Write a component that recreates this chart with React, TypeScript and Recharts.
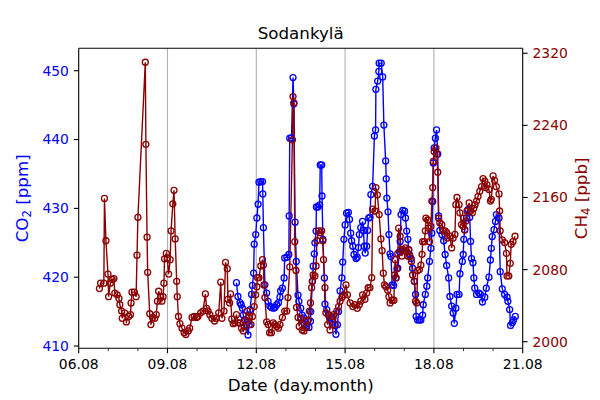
import { ComposedChart, Line, XAxis, YAxis, ReferenceLine } from 'recharts'

const FONT = 'DejaVu Sans, sans-serif'
const CO2_COLOR = '#0000ff'
const CH4_COLOR = '#8b0000'
const GRID_COLOR = '#b0b0b0'

// x axis: day of August, one tick per day, labels every third day
const X_TICKS = [6, 7, 8, 9, 10, 11, 12, 13, 14, 15, 16, 17, 18, 19, 20, 21]
const X_MAJOR = [6, 9, 12, 15, 18, 21]
const X_LABELS = ['06.08', '09.08', '12.08', '15.08', '18.08', '21.08']
const X_GRID = [9, 12, 15, 18]

const CO2_TICKS = [410, 420, 430, 440, 450]
const CH4_TICKS = [2000, 2080, 2160, 2240, 2320]
const CO2_DOMAIN: [number, number] = [409.67, 453.26]
const CH4_DOMAIN: [number, number] = [1992.7, 2325.5]

// CH4 [ppb], time in days of August
const CH4_DAYS = [
  6.70, 6.74, 6.85, 6.87, 6.92, 6.99, 7.01, 7.07, 7.13, 7.19, 7.22, 7.30, 7.36, 7.39, 7.45, 7.47,
  7.55, 7.61, 7.69, 7.75, 7.77, 7.80, 7.88, 7.94, 7.97, 8.00, 8.25, 8.27, 8.31, 8.33, 8.40, 8.44,
  8.50, 8.57, 8.62, 8.66, 8.70, 8.77, 8.81, 8.85, 8.88, 8.90, 8.96, 8.99, 9.04, 9.09, 9.12, 9.18,
  9.22, 9.26, 9.31, 9.33, 9.37, 9.42, 9.49, 9.56, 9.62, 9.70, 9.75, 9.83, 9.90, 9.98, 10.03, 10.12,
  10.20, 10.28, 10.32, 10.37, 10.43, 10.50, 10.59, 10.65, 10.73, 10.80, 10.84, 10.91, 10.96, 11.02, 11.04, 11.10,
  11.13, 11.17, 11.22, 11.27, 11.33, 11.38, 11.45, 11.50, 11.56, 11.60, 11.64, 11.69, 11.76, 11.82, 11.87, 11.93,
  11.98, 12.02, 12.04, 12.09, 12.15, 12.21, 12.24, 12.26, 12.29, 12.35, 12.40, 12.45, 12.51, 12.57, 12.62, 12.69,
  12.75, 12.80, 12.88, 12.96, 13.03, 13.07, 13.13, 13.22, 13.24, 13.27, 13.30, 13.34, 13.36, 13.41, 13.45, 13.50,
  13.55, 13.61, 13.67, 13.70, 13.76, 13.79, 13.83, 13.87, 13.89, 13.92, 13.98, 14.02, 14.05, 14.10, 14.16, 14.21,
  14.25, 14.27, 14.32, 14.35, 14.41, 14.44, 14.49, 14.55, 14.61, 14.66, 14.72, 14.78, 14.83, 14.89, 14.94, 15.03,
  15.08, 15.17, 15.26, 15.33, 15.41, 15.48, 15.53, 15.59, 15.67, 15.73, 15.78, 15.84, 15.90, 15.93, 16.01, 16.04,
  16.09, 16.15, 16.21, 16.25, 16.29, 16.33, 16.38, 16.44, 16.48, 16.52, 16.59, 16.65, 16.67, 16.69, 16.72, 16.75,
  16.78, 16.81, 16.86, 16.89, 16.92, 16.97, 17.04, 17.08, 17.12, 17.15, 17.19, 17.24, 17.28, 17.34, 17.38, 17.42,
  17.45, 17.51, 17.56, 17.60, 17.62, 17.68, 17.71, 17.73, 17.79, 17.82, 17.85, 17.90, 17.93, 17.96, 17.98, 18.01,
  18.07, 18.10, 18.13, 18.16, 18.20, 18.27, 18.32, 18.38, 18.43, 18.46, 18.54, 18.60, 18.65, 18.71, 18.74, 18.78,
  18.85, 18.88, 18.93, 18.99, 19.01, 19.04, 19.08, 19.12, 19.19, 19.24, 19.30, 19.35, 19.39, 19.44, 19.49, 19.55,
  19.61, 19.66, 19.72, 19.75, 19.79, 19.86, 19.91, 19.94, 20.00, 20.05, 20.11, 20.20, 20.22, 20.24, 20.31, 20.39,
  20.45, 20.47, 20.53, 20.58, 20.61, 20.67, 20.74,
]
const CH4_PPB = [
  2059, 2065, 2065, 2159, 2112, 2075, 2050, 2065, 2069, 2070, 2054, 2052, 2048, 2041, 2034, 2026,
  2032, 2022, 2028, 2030, 2043, 2055, 2055, 2050, 2096, 2138, 2310, 2219, 2116, 2077, 2031, 2019,
  2027, 2026, 2030, 2045, 2056, 2050, 2045, 2050, 2065, 2092, 2098, 2093, 2075, 2091, 2123, 2153,
  2168, 2114, 2067, 2050, 2028, 2020, 2015, 2010, 2008, 2012, 2015, 2027, 2028, 2027, 2028, 2032,
  2034, 2053, 2037, 2034, 2030, 2026, 2023, 2026, 2032, 2066, 2026, 2034, 2088, 2081, 2047, 2043,
  2053, 2025, 2020, 2021, 2030, 2021, 2021, 2015, 2012, 2017, 2024, 2034, 2027, 2019, 2028, 2039,
  2052, 2061, 2071, 2071, 2084, 2091, 2085, 2063, 2049, 2022, 2019, 2010, 2010, 2021, 2019, 2017,
  2015, 2019, 2027, 2034, 2034, 2049, 2083, 2224, 2272, 2265, 2111, 2079, 2038, 2027, 2017, 2026,
  2013, 2012, 2023, 2016, 2024, 2034, 2043, 2060, 2067, 2074, 2073, 2084, 2112, 2123, 2121, 2123,
  2112, 2091, 2060, 2032, 2019, 2030, 2013, 2028, 2030, 2019, 2034, 2039, 2045, 2049, 2052, 2063,
  2052, 2043, 2039, 2041, 2037, 2041, 2045, 2052, 2047, 2054, 2060, 2060, 2071, 2147, 2145, 2171,
  2163, 2141, 2114, 2101, 2076, 2063, 2061, 2057, 2050, 2043, 2046, 2046, 2074, 2091, 2071, 2081,
  2098, 2126, 2117, 2102, 2095, 2102, 2104, 2100, 2095, 2102, 2095, 2089, 2074, 2067, 2045, 2043,
  2079, 2080, 2085, 2097, 2111, 2111, 2123, 2137, 2135, 2126, 2111, 2128, 2156, 2171, 2200, 2211,
  2215, 2208, 2188, 2137, 2132, 2130, 2123, 2123, 2121, 2115, 2117, 2104, 2115, 2119, 2152, 2160,
  2152, 2143, 2130, 2128, 2137, 2124, 2134, 2145, 2154, 2145, 2143, 2148, 2152, 2156, 2161, 2167,
  2172, 2181, 2178, 2171, 2174, 2169, 2156, 2158, 2184, 2179, 2172, 2164, 2145, 2123, 2113, 2110,
  2098, 2073, 2073, 2087, 2108, 2111, 2117,
]

// CO2 [ppm], time in days of August
const CO2_DAYS = [
  11.33, 11.38, 11.45, 11.49, 11.53, 11.56, 11.60, 11.67, 11.72, 11.76, 11.79, 11.84, 11.87, 11.91, 11.93, 11.98,
  12.02, 12.06, 12.09, 12.15, 12.21, 12.22, 12.24, 12.29, 12.35, 12.40, 12.46, 12.51, 12.58, 12.63, 12.69, 12.75,
  12.80, 12.82, 12.88, 12.94, 12.96, 13.03, 13.10, 13.11, 13.13, 13.19, 13.24, 13.27, 13.31, 13.35, 13.41, 13.44,
  13.50, 13.55, 13.61, 13.63, 13.70, 13.78, 13.83, 13.84, 13.90, 13.92, 13.96, 13.98, 14.02, 14.03, 14.08, 14.14,
  14.16, 14.21, 14.22, 14.25, 14.30, 14.32, 14.38, 14.44, 14.52, 14.58, 14.66, 14.69, 14.74, 14.78, 14.83, 14.89,
  14.92, 14.96, 15.00, 15.05, 15.11, 15.15, 15.19, 15.22, 15.26, 15.30, 15.37, 15.41, 15.45, 15.48, 15.53, 15.59,
  15.62, 15.65, 15.68, 15.73, 15.76, 15.80, 15.84, 15.87, 15.93, 15.99, 16.03, 16.04, 16.10, 16.14, 16.15, 16.22,
  16.27, 16.31, 16.37, 16.39, 16.41, 16.45, 16.48, 16.52, 16.55, 16.59, 16.64, 16.72, 16.78, 16.84, 16.86, 16.89,
  16.95, 17.01, 17.04, 17.08, 17.12, 17.15, 17.17, 17.23, 17.28, 17.34, 17.38, 17.40, 17.45, 17.51, 17.56, 17.62,
  17.64, 17.71, 17.76, 17.79, 17.85, 17.90, 17.93, 17.96, 17.98, 18.01, 18.05, 18.09, 18.13, 18.16, 18.20, 18.27,
  18.33, 18.38, 18.43, 18.50, 18.54, 18.60, 18.65, 18.69, 18.74, 18.78, 18.85, 18.88, 18.96, 18.99, 19.01, 19.04,
  19.10, 19.15, 19.21, 19.24, 19.27, 19.32, 19.35, 19.38, 19.44, 19.52, 19.57, 19.64, 19.72, 19.77, 19.86, 19.91,
  19.94, 19.97, 20.03, 20.08, 20.11, 20.20, 20.24, 20.31, 20.39, 20.47, 20.50, 20.56, 20.59, 20.65, 20.69, 20.75,
]
const CO2_PPM = [
  419.2, 417.2, 416.3, 416.0, 415.5, 414.5, 413.8, 413.1, 411.6, 413.1, 415.3, 417.5, 418.8, 420.6, 424.8, 426.2,
  428.6, 430.6, 433.8, 433.9, 433.9, 432.1, 427.2, 418.9, 417.7, 416.5, 415.8, 415.6, 415.5, 415.6, 416.0, 416.3,
  417.1, 418.0, 418.4, 419.9, 422.8, 422.9, 423.3, 428.9, 440.2, 440.2, 449.0, 445.2, 428.0, 422.3, 417.4, 416.5,
  415.5, 414.5, 414.1, 413.1, 412.9, 412.7, 413.6, 415.0, 419.4, 421.6, 423.4, 425.0, 426.7, 430.2, 430.2, 430.5,
  436.3, 436.3, 431.8, 425.5, 419.9, 416.1, 415.3, 414.5, 414.1, 413.1, 413.0, 411.7, 413.1, 415.0, 418.0, 419.9,
  422.2, 425.5, 427.6, 429.3, 429.4, 428.4, 426.4, 425.3, 424.5, 423.3, 422.7, 422.9, 424.3, 426.2, 427.2, 428.1,
  426.8, 424.5, 423.5, 424.5, 426.8, 428.6, 428.7, 432.0, 433.2, 440.5, 441.4, 447.3, 448.5, 449.9, 451.1, 451.1,
  449.1, 442.1, 436.9, 434.3, 431.5, 429.5, 426.2, 423.4, 423.0, 418.9, 418.8, 419.9, 421.3, 423.7, 425.2, 429.1,
  429.7, 429.6, 428.6, 426.7, 425.5, 424.0, 423.3, 422.7, 421.3, 419.4, 417.5, 414.3, 413.8, 413.8, 413.8, 414.5,
  416.0, 417.5, 418.7, 419.9, 422.3, 424.2, 426.4, 431.0, 436.6, 438.8, 440.2, 441.4, 437.9, 428.9, 426.8, 426.2,
  425.3, 423.3, 421.7, 419.9, 417.2, 415.8, 414.8, 413.3, 415.5, 417.5, 417.5, 420.5, 422.3, 423.3, 425.5, 426.9,
  428.6, 429.8, 428.7, 425.2, 422.7, 422.1, 419.9, 418.4, 417.5, 417.7, 417.5, 416.4, 417.1, 418.4, 420.0, 422.5,
  424.2, 425.9, 426.9, 428.1, 429.1, 428.6, 420.8, 418.3, 417.5, 417.1, 416.5, 415.3, 413.0, 413.4, 413.8, 414.3,
]

const co2Data = CO2_DAYS.map((t, i) => ({ t, co2: CO2_PPM[i] }))
const ch4Data = CH4_DAYS.map((t, i) => ({ t, ch4: CH4_PPB[i] }))

function DayTick(props: any) {
  const { x, y, payload } = props
  const idx = X_MAJOR.indexOf(payload.value)
  const major = idx >= 0
  return (
    <g>
      <line x1={x} x2={x} y1={y} y2={y + (major ? 4.9 : 2.8)} stroke="#000" strokeWidth={major ? 1.1 : 0.8} />
      {major && (
        <text x={x} y={y + 20.4} textAnchor="middle" fontSize={13.9} fontFamily={FONT} fill="#000">
          {X_LABELS[idx]}
        </text>
      )}
    </g>
  )
}

const yTickStyle = (color: string) => ({ fill: color, fontSize: 13.9, fontFamily: FONT })

export default function App() {
  return (
    <div style={{ position: 'absolute', left: 0, top: 0, width: 600, height: 400, background: '#fff' }}>
      <div
        style={{
          position: 'absolute', left: 0, top: 24.5, width: 601.4, textAlign: 'center',
          fontFamily: FONT, fontSize: 16.7, lineHeight: 1, color: '#000',
        }}
      >
        Sodankylä
      </div>
      <ComposedChart width={600} height={400} margin={{ top: 48.3, right: 17.3, bottom: 21.7, left: 18.7 }}>
        <XAxis
          xAxisId="day"
          type="number"
          dataKey="t"
          domain={[6, 21]}
          allowDataOverflow
          ticks={X_TICKS}
          interval={0}
          tick={DayTick}
          tickLine={false}
          tickSize={0}
          tickMargin={0}
          height={30}
          axisLine={{ stroke: '#000', strokeWidth: 1.1 }}
          label={{
            content: ({ viewBox }: any) => {
              const vb = viewBox || { x: 78.7, y: 348.3, width: 444 }
              return (
                <text x={vb.x + vb.width / 2} y={vb.y + 42.7} textAnchor="middle" fontSize={16.7} fontFamily={FONT} fill="#000">
                  Date (day.month)
                </text>
              )
            },
          }}
        />
        <YAxis
          yAxisId="co2"
          orientation="left"
          type="number"
          domain={CO2_DOMAIN}
          allowDataOverflow
          ticks={CO2_TICKS}
          interval={0}
          width={60}
          tickSize={4.9}
          tickMargin={4.9}
          stroke="#000"
          axisLine={{ stroke: '#000', strokeWidth: 1.1 }}
          tickLine={{ stroke: '#000', strokeWidth: 1.1 }}
          tick={yTickStyle(CO2_COLOR)}
          label={{
            content: ({ viewBox }: any) => {
              const vb = viewBox || { x: 18.7, y: 48.3, height: 300 }
              const cx = vb.x + 9
              const cy = vb.y + vb.height / 2
              return (
                <text transform={`rotate(-90, ${cx}, ${cy})`} x={cx} y={cy} textAnchor="middle" fontSize={16.7} fontFamily={FONT} fill={CO2_COLOR}>
                  CO<tspan fontSize={11.7} dy={3}>2</tspan><tspan dy={-3}> [ppm]</tspan>
                </text>
              )
            },
          }}
        />
        <YAxis
          yAxisId="ch4"
          orientation="right"
          type="number"
          domain={CH4_DOMAIN}
          allowDataOverflow
          ticks={CH4_TICKS}
          interval={0}
          width={60}
          tickSize={4.9}
          tickMargin={4.9}
          stroke="#000"
          axisLine={{ stroke: '#000', strokeWidth: 1.1 }}
          tickLine={{ stroke: '#000', strokeWidth: 1.1 }}
          tick={yTickStyle(CH4_COLOR)}
          label={{
            content: ({ viewBox }: any) => {
              const vb = viewBox || { x: 522.7, y: 48.3, width: 60, height: 300 }
              const cx = vb.x + 64.5
              const cy = vb.y + vb.height / 2
              return (
                <text transform={`rotate(-90, ${cx}, ${cy})`} x={cx} y={cy} textAnchor="middle" fontSize={16.7} fontFamily={FONT} fill={CH4_COLOR}>
                  CH<tspan fontSize={11.7} dy={3}>4</tspan><tspan dy={-3}> [ppb]</tspan>
                </text>
              )
            },
          }}
        />

        {X_GRID.map((d) => (
          <ReferenceLine key={d} xAxisId="day" yAxisId="co2" x={d} stroke={GRID_COLOR} strokeWidth={1.1} />
        ))}
        {/* top spine */}
        <ReferenceLine xAxisId="day" yAxisId="co2" y={CO2_DOMAIN[1]} stroke="#000" strokeWidth={1.1} />

        <Line
          xAxisId="day"
          yAxisId="co2"
          data={co2Data}
          dataKey="co2"
          type="linear"
          stroke={CO2_COLOR}
          strokeWidth={1.4}
          dot={{ r: 3, fill: 'none', stroke: CO2_COLOR, strokeWidth: 1.3 }}
          activeDot={false}
          isAnimationActive={false}
        />
        <Line
          xAxisId="day"
          yAxisId="ch4"
          data={ch4Data}
          dataKey="ch4"
          type="linear"
          stroke={CH4_COLOR}
          strokeWidth={1.4}
          dot={{ r: 3, fill: 'none', stroke: CH4_COLOR, strokeWidth: 1.3 }}
          activeDot={false}
          isAnimationActive={false}
        />
      </ComposedChart>
    </div>
  )
}
